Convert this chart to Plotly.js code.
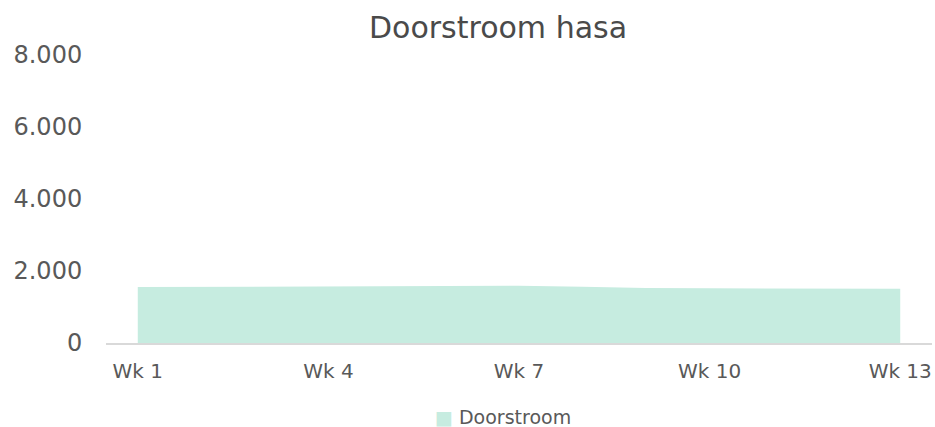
<!DOCTYPE html>
<html>
<head>
<meta charset="utf-8">
<script src="https://cdn.plot.ly/plotly-3.0.1.min.js"></script>
<style>html,body{margin:0;padding:0;background:#fff;}#chart{width:935px;height:427px;}</style>
</head>
<body>
<div id="chart"></div>
<script>
const weeks = ["Wk 1","Wk 2","Wk 3","Wk 4","Wk 5","Wk 6","Wk 7","Wk 8","Wk 9","Wk 10","Wk 11","Wk 12","Wk 13"];
const doorstroom = [1555,1560,1565,1568,1575,1582,1590,1560,1525,1520,1515,1510,1505];
const shownTicks = ["Wk 1","Wk 4","Wk 7","Wk 10","Wk 13"];
const yTicks = [0,2000,4000,6000,8000];
const yTickText = ["0","2.000","4.000","6.000","8.000"];
const seriesName = "Doorstroom";
const fillColor = "#C6ECE0";

const xPos = weeks.map((w,i)=>i+1);
const tickPos = shownTicks.map(t=>weeks.indexOf(t)+1);
const FONT = '"DejaVu Sans", sans-serif';

const trace = {
  x: xPos, y: doorstroom, type:'scatter', mode:'lines', fill:'tozeroy',
  fillcolor:fillColor, line:{width:0, color:fillColor}, name:seriesName,
  hoverinfo:'skip', showlegend:false
};
const layout = {
  width:935, height:427,
  margin:{l:106, r:3, t:55, b:84},
  paper_bgcolor:'#fff', plot_bgcolor:'#fff',
  font:{family:FONT, color:'#595959'},
  title:{text:'Doorstroom hasa', font:{size:30, color:'#4a4a4a', family:FONT}, xref:'container', x:498/935, xanchor:'center', yref:'container', y:1-27/427, yanchor:'middle'},
  xaxis:{range:[0.5,13.5], tickvals:tickPos, ticktext:shownTicks, showgrid:false, zeroline:false,
    showline:true, linecolor:'#D9D9D9', linewidth:1.5, ticks:'outside', ticklen:9, tickcolor:'rgba(0,0,0,0)',
    tickfont:{size:20, color:'#595959', family:FONT}},
  yaxis:{range:[0,8000], tickvals:yTicks, ticktext:yTickText, showgrid:false, zeroline:false, showline:false,
    ticks:'outside', ticklen:18, tickcolor:'rgba(0,0,0,0)', tickfont:{size:24, family:FONT, color:'#595959'}},
  showlegend:false,
  annotations:[{
    text:"<span style='color:"+fillColor+"'>■</span> "+seriesName,
    xref:'paper', yref:'paper', x:(503-106)/826, y:(342.7-417)/288, xanchor:'center', yanchor:'middle',
    showarrow:false, font:{size:19, family:FONT, color:'#595959'}
  }]
};
Plotly.newPlot('chart',[trace],layout,{staticPlot:true});
</script>
</body>
</html>
